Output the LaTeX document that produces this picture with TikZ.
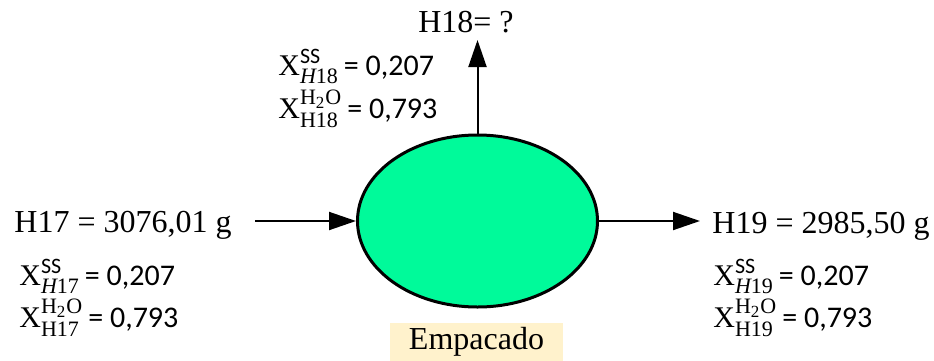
\documentclass[tikz,border=0pt]{standalone}
\usepackage{amsmath}
\usepackage{fontspec}
\setmainfont{Liberation Serif}
\newfontfamily\calfont{Carlito}
\usetikzlibrary{positioning,arrows.meta,shapes.geometric}
\definecolor{packgreen}{RGB}{0,250,154}
\definecolor{tagbeige}{RGB}{255,242,204}
\DeclareMathSizes{15}{15}{11}{8.5}
\newcommand{\ssfrac}[2]{$\text{X}^{\text{\calfont SS}}_{\textit{H}\text{#1}}$\,{\calfont = #2}}
\newcommand{\wfrac}[2]{$\text{X}^{\text{H}_{\text{2}}\text{O}}_{\text{H#1}}$\,{\calfont = #2}}

\begin{document}
\begin{tikzpicture}[x=0.5pt, y=-0.5pt,
  stream/.style={font=\fontsize{16}{19}\selectfont, inner sep=0pt},
  frac/.style={font=\fontsize{15}{18}\selectfont, inner sep=0pt, anchor=base west},
  proc/.style={ellipse, draw=black, line width=1.5pt, fill=packgreen,
               minimum width=120pt, minimum height=86pt, inner sep=0pt},
  tagbox/.style={fill=tagbeige, font=\fontsize{16}{19}\selectfont,
                 minimum width=86.5pt, minimum height=19pt, inner sep=0pt},
  flowarrow/.style={line width=1pt, -{Triangle[length=13.5pt,width=9pt]}}]
\useasboundingbox (0,0) rectangle (934,360);

% ================= process =================
\node[proc] (pack) at (477.5,221) {};
\node[tagbox] (packlbl) at (476.5,342) {Empacado};

% ================= streams =================
\node[stream, anchor=base west] (h17) at (14,232) {H17 = 3076,01 g};
\node[stream, anchor=base] (h18) at (466,32) {H18= ?};
\node[stream, anchor=base west] (h19) at (712,233) {H19 = 2985,50 g};

\coordinate (in17) at (255,221);
\coordinate (out18) at (477.5,40);
\coordinate (out19) at (700,221);

\draw[flowarrow] (in17) -- (pack.west);
\draw[flowarrow] (pack.north) -- (out18);
\draw[flowarrow] (pack.east) -- (out19);

% ================= compositions =================
\node[frac] (ss17) at (19,285) {\ssfrac{17}{0,207}};
\node[frac] (w17)  at (19,327) {\wfrac{17}{0,793}};
\node[frac] (ss18) at (278,75) {\ssfrac{18}{0,207}};
\node[frac] (w18)  at (278,118) {\wfrac{18}{0,793}};
\node[frac] (ss19) at (713,285) {\ssfrac{19}{0,207}};
\node[frac] (w19)  at (713,327) {\wfrac{19}{0,793}};
\end{tikzpicture}
\end{document}
